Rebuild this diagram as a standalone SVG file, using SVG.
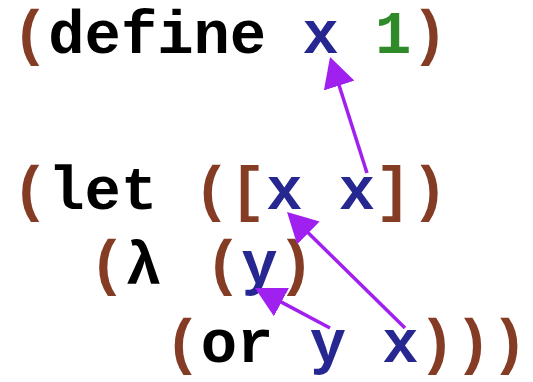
<svg xmlns="http://www.w3.org/2000/svg" width="533" height="382" viewBox="0 0 533 382">
  <style>
    .code { font-family: "Liberation Mono", "Courier New", monospace; font-weight: bold; font-size: 60.5px; fill: #000; }
    .par { fill: #843c24; }
    .id { fill: #262790; }
    .num { fill: #2f8a29; }
    .bind { stroke: #a020f0; stroke-width: 3.5; fill: none; }
  </style>
  <defs>
    <marker id="head" viewBox="0 0 30 32" refX="15" refY="16" markerWidth="30" markerHeight="32" markerUnits="userSpaceOnUse" orient="auto">
      <path d="M0,0 L30,16 L0,32 z" fill="#a020f0"/>
    </marker>
  </defs>
  <rect width="533" height="382" fill="#fff"/>

  <g id="line-define">
    <text class="code" x="12" y="53"><tspan class="par">(</tspan>define <tspan class="id">x</tspan> <tspan class="num">1</tspan><tspan class="par">)</tspan></text>
  </g>
  <g id="line-let">
    <text class="code" x="12" y="209"><tspan class="par">(</tspan>let <tspan class="par">([</tspan><tspan class="id">x</tspan> <tspan class="id">x</tspan><tspan class="par">])</tspan></text>
  </g>
  <g id="line-lambda">
    <text class="code" x="89" y="283"><tspan class="par">(</tspan>λ</text>
    <text class="code" x="205" y="283"><tspan class="par">(</tspan><tspan class="id">y</tspan><tspan class="par">)</tspan></text>
  </g>
  <g id="line-or">
    <text class="code" x="164.5" y="362"><tspan class="par">(</tspan>or <tspan class="id">y</tspan> <tspan class="id">x</tspan><tspan class="par">)))</tspan></text>
  </g>

  <g id="connectors">
    <line class="bind" x1="367" y1="173" x2="334.6" y2="71.3" marker-end="url(#head)"/>
    <line class="bind" x1="405" y1="328" x2="297.7" y2="222.5" marker-end="url(#head)"/>
    <line class="bind" x1="330" y1="328" x2="268.2" y2="295.1" marker-end="url(#head)"/>
  </g>
</svg>
